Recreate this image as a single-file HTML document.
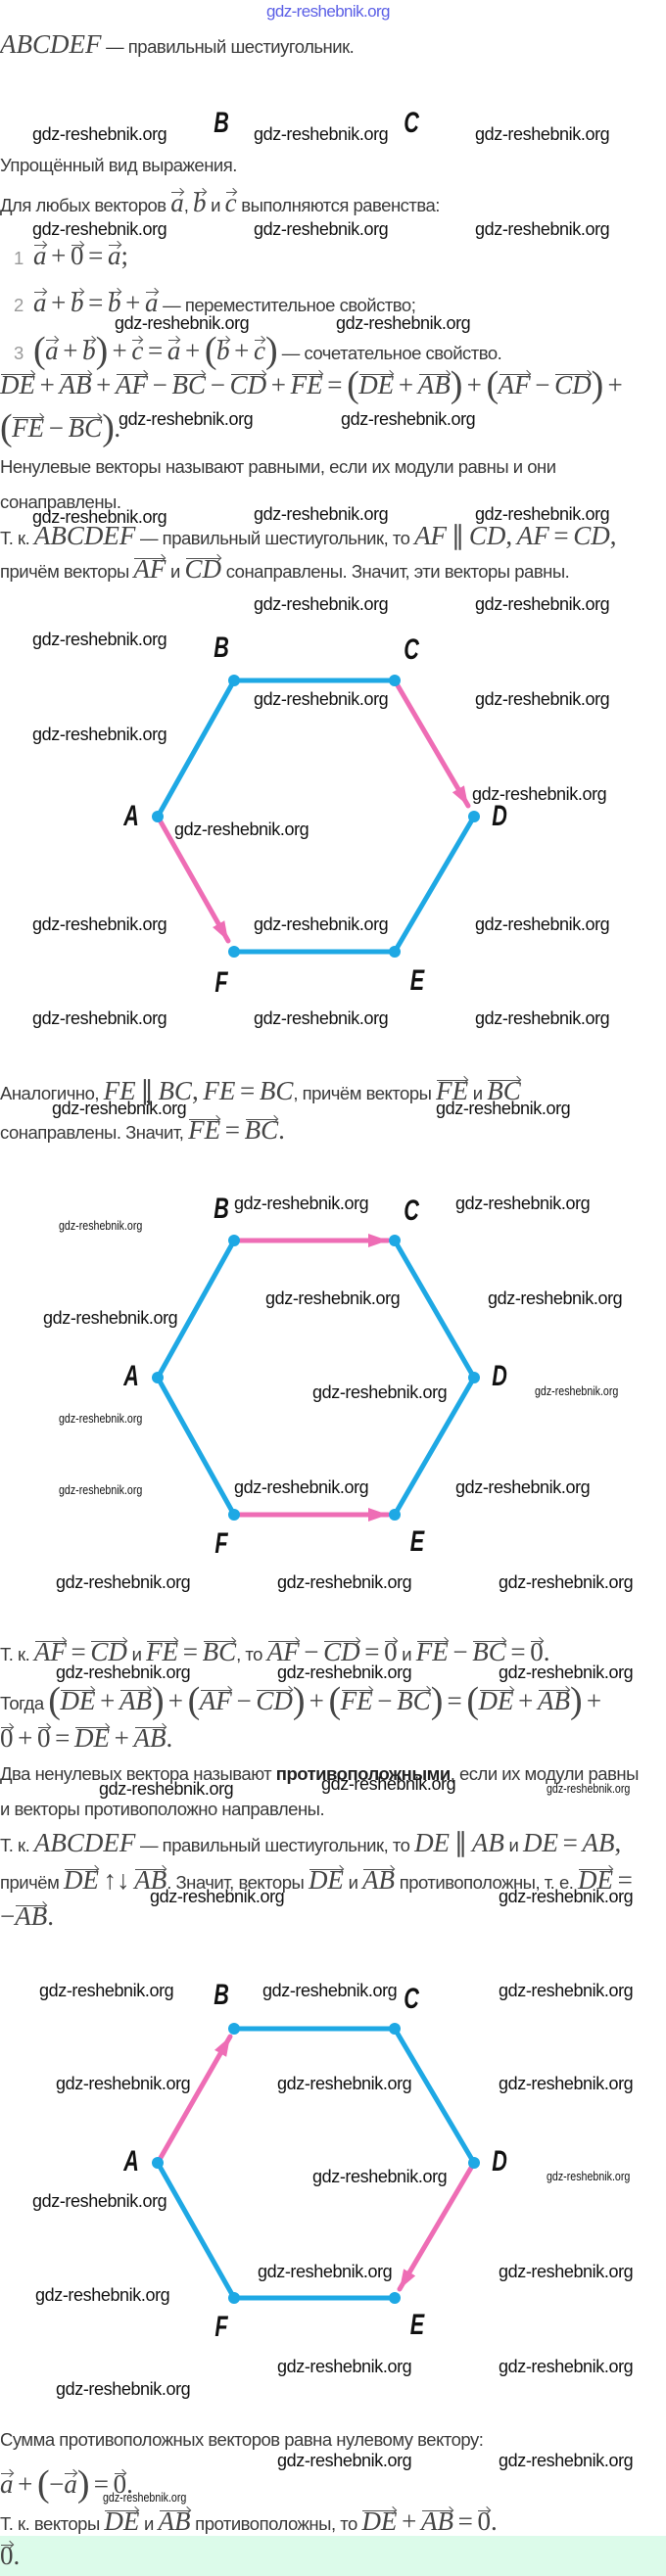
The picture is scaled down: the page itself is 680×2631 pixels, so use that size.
<!DOCTYPE html>
<html><head><meta charset="utf-8">
<style>
html,body{margin:0;padding:0}
body{width:680px;height:2631px;position:relative;background:#fff;overflow:hidden;font-family:"Liberation Sans",sans-serif;color:#3a3a3a}
.t{position:absolute;left:0;white-space:nowrap;font-size:18.5px;line-height:26px;letter-spacing:-0.5px}
.m{font-family:"Liberation Serif",serif;font-style:italic;font-size:27px;color:#444;letter-spacing:0}
.r{font-family:"Liberation Serif",serif;font-size:27px;color:#444;letter-spacing:0}
.p{font-family:"Liberation Serif",serif;font-size:38px;color:#444;font-weight:100;vertical-align:-3px}
.v{position:relative;display:inline-block}
.v::before{content:"";position:absolute;left:1px;right:1px;top:2px;border-top:1.3px solid #555}
.v::after{content:"";position:absolute;right:1px;top:-1px;width:5px;height:5px;border-top:1.3px solid #555;border-right:1.3px solid #555;transform:rotate(45deg)}
.w{position:absolute;white-space:nowrap;font-size:18px;line-height:20px;color:#111;letter-spacing:-0.4px}
.ws{position:absolute;white-space:nowrap;font-size:13px;line-height:16px;color:#111;transform:scaleX(0.82);transform-origin:left}
.n{color:#999;display:inline-block;width:20px;margin-left:14px}
.L{position:absolute;font-weight:bold;font-style:italic;font-size:30px;line-height:30px;color:#111;transform:translate(-50%,-50%) scaleX(0.72)}
b{color:#222}
</style></head><body>
<div style="position:absolute;left:272px;top:2px;font-size:17px;color:#5b5fe6;letter-spacing:-0.6px;line-height:20px">gdz-reshebnik.org</div>

<div class="t" style="top:32px"><span class="m">ABCDEF</span> — правильный шестиугольник.</div>
<div class="t" style="top:156px">Упрощённый вид выражения.</div>
<div class="t" style="top:194px">Для любых векторов <span class="m v">a</span>, <span class="m v">b</span> и <span class="m v">c</span> выполняются равенства:</div>
<div class="t" style="top:248px"><span class="n">1</span><span class="m v">a</span> <span class="r">+</span> <span class="r v">0</span> <span class="r">=</span> <span class="m v">a</span><span class="r">;</span></div>
<div class="t" style="top:296px"><span class="n">2</span><span class="m v">a</span> <span class="r">+</span> <span class="m v">b</span> <span class="r">=</span> <span class="m v">b</span> <span class="r">+</span> <span class="m v">a</span> — переместительное свойство;</div>
<div class="t" style="top:345px"><span class="n">3</span><span class="p">(</span><span class="m v">a</span> <span class="r">+</span> <span class="m v">b</span><span class="p">)</span> <span class="r">+</span> <span class="m v">c</span> <span class="r">=</span> <span class="m v">a</span> <span class="r">+</span> <span class="p">(</span><span class="m v">b</span> <span class="r">+</span> <span class="m v">c</span><span class="p">)</span> — сочетательное свойство.</div>
<div class="t" style="top:380px"><span class="m v">DE</span> <span class="r">+</span> <span class="m v">AB</span> <span class="r">+</span> <span class="m v">AF</span> <span class="r">−</span> <span class="m v">BC</span> <span class="r">−</span> <span class="m v">CD</span> <span class="r">+</span> <span class="m v">FE</span> <span class="r">=</span> <span class="p">(</span><span class="m v">DE</span> <span class="r">+</span> <span class="m v">AB</span><span class="p">)</span> <span class="r">+</span> <span class="p">(</span><span class="m v">AF</span> <span class="r">−</span> <span class="m v">CD</span><span class="p">)</span> <span class="r">+</span></div>
<div class="t" style="top:424px"><span class="p">(</span><span class="m v">FE</span> <span class="r">−</span> <span class="m v">BC</span><span class="p">)</span><span class="r">.</span></div>
<div class="t" style="top:464px">Ненулевые векторы называют равными, если их модули равны и они</div>
<div class="t" style="top:500px">сонаправлены.</div>
<div class="t" style="top:534px">Т. к. <span class="m">ABCDEF</span> — правильный шестиугольник, то <span class="m">AF</span> <span class="r">∥</span> <span class="m">CD</span><span class="r">,</span> <span class="m">AF</span> <span class="r">=</span> <span class="m">CD</span><span class="r">,</span></div>
<div class="t" style="top:568px">причём векторы <span class="m v">AF</span> и <span class="m v">CD</span> сонаправлены. Значит, эти векторы равны.</div>

<div class="t" style="top:1101px">Аналогично, <span class="m">FE</span> <span class="r">∥</span> <span class="m">BC</span><span class="r">,</span> <span class="m">FE</span> <span class="r">=</span> <span class="m">BC</span>, причём векторы <span class="m v">FE</span> и <span class="m v">BC</span></div>
<div class="t" style="top:1141px">сонаправлены. Значит, <span class="m v">FE</span> <span class="r">=</span> <span class="m v">BC</span><span class="r">.</span></div>

<div class="t" style="top:1674px">Т. к. <span class="m v">AF</span> <span class="r">=</span> <span class="m v">CD</span> и <span class="m v">FE</span> <span class="r">=</span> <span class="m v">BC</span>, то <span class="m v">AF</span> <span class="r">−</span> <span class="m v">CD</span> <span class="r">=</span> <span class="r v">0</span> и <span class="m v">FE</span> <span class="r">−</span> <span class="m v">BC</span> <span class="r">=</span> <span class="r v">0</span><span class="r">.</span></div>
<div class="t" style="top:1724px">Тогда <span class="p">(</span><span class="m v">DE</span> <span class="r">+</span> <span class="m v">AB</span><span class="p">)</span> <span class="r">+</span> <span class="p">(</span><span class="m v">AF</span> <span class="r">−</span> <span class="m v">CD</span><span class="p">)</span> <span class="r">+</span> <span class="p">(</span><span class="m v">FE</span> <span class="r">−</span> <span class="m v">BC</span><span class="p">)</span> <span class="r">=</span> <span class="p">(</span><span class="m v">DE</span> <span class="r">+</span> <span class="m v">AB</span><span class="p">)</span> <span class="r">+</span></div>
<div class="t" style="top:1762px"><span class="r v">0</span> <span class="r">+</span> <span class="r v">0</span> <span class="r">=</span> <span class="m v">DE</span> <span class="r">+</span> <span class="m v">AB</span><span class="r">.</span></div>
<div class="t" style="top:1799px">Два ненулевых вектора называют <b>противоположными</b>, если их модули равны</div>
<div class="t" style="top:1835px">и векторы противоположно направлены.</div>
<div class="t" style="top:1869px">Т. к. <span class="m">ABCDEF</span> — правильный шестиугольник, то <span class="m">DE</span> <span class="r">∥</span> <span class="m">AB</span> и <span class="m">DE</span> <span class="r">=</span> <span class="m">AB</span><span class="r">,</span></div>
<div class="t" style="top:1907px">причём <span class="m v">DE</span> <span class="r">↑↓</span> <span class="m v">AB</span>. Значит, векторы <span class="m v">DE</span> и <span class="m v">AB</span> противоположны, т. е. <span class="m v">DE</span> <span class="r">=</span></div>
<div class="t" style="top:1944px"><span class="r">−</span><span class="m v">AB</span><span class="r">.</span></div>

<div class="t" style="top:2479px">Сумма противоположных векторов равна нулевому вектору:</div>
<div class="t" style="top:2524px"><span class="m v">a</span> <span class="r">+</span> <span class="p">(</span><span class="r">−</span><span class="m v">a</span><span class="p">)</span> <span class="r">=</span> <span class="r v">0</span><span class="r">.</span></div>
<div class="t" style="top:2562px">Т. к. векторы <span class="m v">DE</span> и <span class="m v">AB</span> противоположны, то <span class="m v">DE</span> <span class="r">+</span> <span class="m v">AB</span> <span class="r">=</span> <span class="r v">0</span><span class="r">.</span></div>
<div style="position:absolute;left:0;top:2590px;width:680px;height:41px;background:#dcfbea"></div>
<div class="t" style="top:2597px"><span class="r v">0</span><span class="r">.</span></div>

<svg width="680" height="2631" style="position:absolute;left:0;top:0" xmlns="http://www.w3.org/2000/svg">
<defs>
<marker id="ah" markerUnits="userSpaceOnUse" markerWidth="20" markerHeight="16" refX="20" refY="8" orient="auto"><path d="M0,1 L20,8 L0,15 z" fill="#ee6db5"/></marker>
</defs>
<g stroke-width="5" fill="none" stroke-linecap="round">
<path d="M239,695 L403,695 M484,834 L403,972 L239,972 M161,834 L239,695" stroke="#1ea8e4"/>
<line x1="403" y1="695" x2="478" y2="823" stroke="#ee6db5" marker-end="url(#ah)"/>
<line x1="161" y1="834" x2="233" y2="961" stroke="#ee6db5" marker-end="url(#ah)"/>
<path d="M161,1407 L239,1267 M403,1267 L484,1407 L403,1547 M239,1547 L161,1407" stroke="#1ea8e4"/>
<line x1="239" y1="1267" x2="396" y2="1267" stroke="#ee6db5" marker-end="url(#ah)"/>
<line x1="239" y1="1547" x2="396" y2="1547" stroke="#ee6db5" marker-end="url(#ah)"/>
<path d="M239,2072 L403,2072 L484,2209 M161,2209 L239,2347 L403,2347" stroke="#1ea8e4"/>
<line x1="161" y1="2209" x2="235" y2="2080" stroke="#ee6db5" marker-end="url(#ah)"/>
<line x1="484" y1="2209" x2="408" y2="2338" stroke="#ee6db5" marker-end="url(#ah)"/>
</g>
<g fill="#1ea8e4">
<circle cx="239" cy="695" r="6"/><circle cx="403" cy="695" r="6"/><circle cx="484" cy="834" r="6"/><circle cx="403" cy="972" r="6"/><circle cx="239" cy="972" r="6"/><circle cx="161" cy="834" r="6"/>
<circle cx="239" cy="1267" r="6"/><circle cx="403" cy="1267" r="6"/><circle cx="484" cy="1407" r="6"/><circle cx="403" cy="1547" r="6"/><circle cx="239" cy="1547" r="6"/><circle cx="161" cy="1407" r="6"/>
<circle cx="239" cy="2072" r="6"/><circle cx="403" cy="2072" r="6"/><circle cx="484" cy="2209" r="6"/><circle cx="403" cy="2347" r="6"/><circle cx="239" cy="2347" r="6"/><circle cx="161" cy="2209" r="6"/>
</g>
</svg>

<div class="L" style="left:226px;top:126px">B</div><div class="L" style="left:420px;top:126px">C</div>

<div class="L" style="left:226px;top:662px">B</div><div class="L" style="left:420px;top:664px">C</div>
<div class="L" style="left:134px;top:834px">A</div><div class="L" style="left:510px;top:834px">D</div>
<div class="L" style="left:226px;top:1004px">F</div><div class="L" style="left:426px;top:1002px">E</div>

<div class="L" style="left:226px;top:1235px">B</div><div class="L" style="left:420px;top:1237px">C</div>
<div class="L" style="left:134px;top:1406px">A</div><div class="L" style="left:510px;top:1406px">D</div>
<div class="L" style="left:226px;top:1577px">F</div><div class="L" style="left:426px;top:1575px">E</div>

<div class="L" style="left:226px;top:2038px">B</div><div class="L" style="left:420px;top:2042px">C</div>
<div class="L" style="left:134px;top:2208px">A</div><div class="L" style="left:510px;top:2208px">D</div>
<div class="L" style="left:226px;top:2377px">F</div><div class="L" style="left:426px;top:2375px">E</div>

<div class="w" style="left:33px;top:127px">gdz-reshebnik.org</div><div class="w" style="left:259px;top:127px">gdz-reshebnik.org</div><div class="w" style="left:485px;top:127px">gdz-reshebnik.org</div>
<div class="w" style="left:33px;top:224px">gdz-reshebnik.org</div><div class="w" style="left:259px;top:224px">gdz-reshebnik.org</div><div class="w" style="left:485px;top:224px">gdz-reshebnik.org</div>
<div class="w" style="left:117px;top:320px">gdz-reshebnik.org</div><div class="w" style="left:343px;top:320px">gdz-reshebnik.org</div>
<div class="w" style="left:121px;top:418px">gdz-reshebnik.org</div><div class="w" style="left:348px;top:418px">gdz-reshebnik.org</div>
<div class="w" style="left:33px;top:518px">gdz-reshebnik.org</div><div class="w" style="left:259px;top:515px">gdz-reshebnik.org</div><div class="w" style="left:485px;top:515px">gdz-reshebnik.org</div>

<div class="w" style="left:259px;top:607px">gdz-reshebnik.org</div><div class="w" style="left:485px;top:607px">gdz-reshebnik.org</div>
<div class="w" style="left:33px;top:643px">gdz-reshebnik.org</div>
<div class="w" style="left:259px;top:704px">gdz-reshebnik.org</div><div class="w" style="left:485px;top:704px">gdz-reshebnik.org</div>
<div class="w" style="left:33px;top:740px">gdz-reshebnik.org</div>
<div class="w" style="left:482px;top:801px">gdz-reshebnik.org</div>
<div class="w" style="left:178px;top:837px">gdz-reshebnik.org</div>
<div class="w" style="left:33px;top:934px">gdz-reshebnik.org</div><div class="w" style="left:259px;top:934px">gdz-reshebnik.org</div><div class="w" style="left:485px;top:934px">gdz-reshebnik.org</div>
<div class="w" style="left:33px;top:1030px">gdz-reshebnik.org</div><div class="w" style="left:259px;top:1030px">gdz-reshebnik.org</div><div class="w" style="left:485px;top:1030px">gdz-reshebnik.org</div>

<div class="w" style="left:53px;top:1122px">gdz-reshebnik.org</div><div class="w" style="left:445px;top:1122px">gdz-reshebnik.org</div>
<div class="w" style="left:239px;top:1219px">gdz-reshebnik.org</div><div class="w" style="left:465px;top:1219px">gdz-reshebnik.org</div>
<div class="ws" style="left:60px;top:1244px">gdz-reshebnik.org</div>
<div class="w" style="left:271px;top:1316px">gdz-reshebnik.org</div><div class="w" style="left:498px;top:1316px">gdz-reshebnik.org</div>
<div class="w" style="left:44px;top:1336px">gdz-reshebnik.org</div>
<div class="w" style="left:319px;top:1412px">gdz-reshebnik.org</div>
<div class="ws" style="left:546px;top:1413px">gdz-reshebnik.org</div>
<div class="ws" style="left:60px;top:1441px">gdz-reshebnik.org</div>
<div class="ws" style="left:60px;top:1514px">gdz-reshebnik.org</div>
<div class="w" style="left:239px;top:1509px">gdz-reshebnik.org</div><div class="w" style="left:465px;top:1509px">gdz-reshebnik.org</div>
<div class="w" style="left:57px;top:1606px">gdz-reshebnik.org</div><div class="w" style="left:283px;top:1606px">gdz-reshebnik.org</div><div class="w" style="left:509px;top:1606px">gdz-reshebnik.org</div>

<div class="w" style="left:57px;top:1698px">gdz-reshebnik.org</div><div class="w" style="left:283px;top:1698px">gdz-reshebnik.org</div><div class="w" style="left:509px;top:1698px">gdz-reshebnik.org</div>
<div class="w" style="left:101px;top:1817px">gdz-reshebnik.org</div><div class="w" style="left:328px;top:1812px">gdz-reshebnik.org</div>
<div class="ws" style="left:558px;top:1819px">gdz-reshebnik.org</div>
<div class="w" style="left:153px;top:1927px">gdz-reshebnik.org</div><div class="w" style="left:509px;top:1927px">gdz-reshebnik.org</div>
<div class="w" style="left:40px;top:2023px">gdz-reshebnik.org</div><div class="w" style="left:268px;top:2023px">gdz-reshebnik.org</div><div class="w" style="left:509px;top:2023px">gdz-reshebnik.org</div>
<div class="w" style="left:57px;top:2118px">gdz-reshebnik.org</div><div class="w" style="left:283px;top:2118px">gdz-reshebnik.org</div><div class="w" style="left:509px;top:2118px">gdz-reshebnik.org</div>
<div class="w" style="left:319px;top:2213px">gdz-reshebnik.org</div>
<div class="ws" style="left:558px;top:2215px">gdz-reshebnik.org</div>
<div class="w" style="left:33px;top:2238px">gdz-reshebnik.org</div>
<div class="w" style="left:263px;top:2310px">gdz-reshebnik.org</div><div class="w" style="left:509px;top:2310px">gdz-reshebnik.org</div>
<div class="w" style="left:36px;top:2334px">gdz-reshebnik.org</div>
<div class="w" style="left:283px;top:2407px">gdz-reshebnik.org</div><div class="w" style="left:509px;top:2407px">gdz-reshebnik.org</div>
<div class="w" style="left:57px;top:2430px">gdz-reshebnik.org</div>
<div class="w" style="left:283px;top:2503px">gdz-reshebnik.org</div><div class="w" style="left:509px;top:2503px">gdz-reshebnik.org</div>
<div class="ws" style="left:105px;top:2543px">gdz-reshebnik.org</div>
</body></html>
